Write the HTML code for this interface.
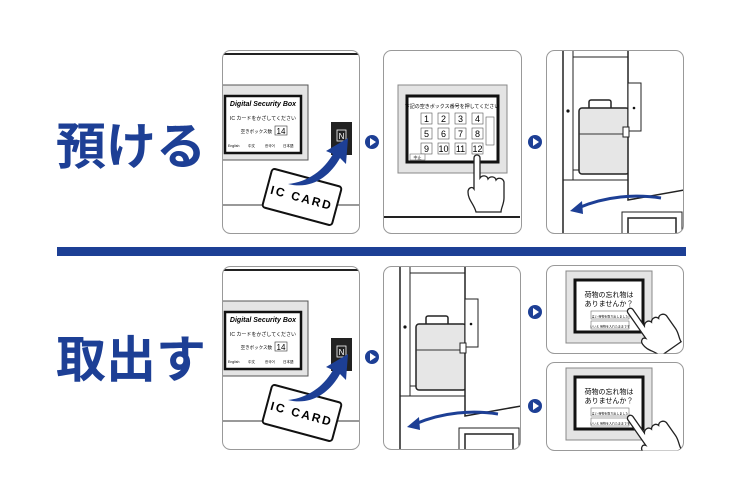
<!DOCTYPE html>
<html><head><meta charset="utf-8"><style>
body{margin:0;background:#fff;width:750px;height:500px;overflow:hidden}
svg{display:block}
.t{font-family:"Liberation Sans","Noto Sans CJK JP",sans-serif}
</style></head><body>
<svg width="750" height="500" viewBox="0 0 750 500" xmlns="http://www.w3.org/2000/svg">
<defs>
<clipPath id="cp"><rect x="0.5" y="0.5" width="137" height="183" rx="8"/></clipPath>
<clipPath id="cps"><rect x="0.5" y="0.5" width="137" height="88" rx="8"/></clipPath>
<g id="arrow"><circle r="7" fill="#1d3f95"/><path d="M-2,-4 L4,0 L-2,4 Z" fill="#fff"/></g>
<g id="hand" fill="#fff" stroke="#222" stroke-width="1.3">
<path d="M0,0 c0,-4 6,-4 6,0 l0,20 c2,-3 7,-3 8,1 c2,-3 7,-3 8,1 c2,-3 7,-2 8,2 l0,16 c0,6 -3,10 -3,14 l-25,0 c-2,-8 -8,-12 -8,-20 c0,-4 4,-6 6,-3 z"/>
</g>
<g id="p1">
<g clip-path="url(#cp)">
<rect x="0" y="0" width="137" height="184" fill="#fff"/>
<line x1="0" y1="4" x2="137" y2="4" stroke="#222" stroke-width="2"/>
<line x1="0" y1="155" x2="137" y2="155" stroke="#333" stroke-width="1"/>
<rect x="-1" y="35" width="87" height="75" fill="#e4e4e4" stroke="#555"/>
<rect x="3" y="46" width="76" height="57" fill="#fff" stroke="#111" stroke-width="2.5"/>
<text x="41" y="56" text-anchor="middle" class="t" font-size="7" font-weight="bold" font-style="italic">Digital Security Box</text>
<text x="41" y="70" text-anchor="middle" class="t" font-size="5">IC カードをかざしてください</text>
<text x="50" y="83" text-anchor="end" class="t" font-size="4.5">空きボックス数</text>
<rect x="53" y="76" width="12" height="9" fill="#fff" stroke="#333" stroke-width=".6"/>
<text x="59" y="84" text-anchor="middle" class="t" font-size="8">14</text>
<g class="t" font-size="3.5"><text x="6" y="97">English</text><text x="26" y="97">中文</text><text x="43" y="97">한국어</text><text x="61" y="97">日本語</text></g>
<rect x="109" y="72" width="21" height="33" fill="#222"/>
<rect x="115" y="80" width="9" height="11" fill="none" stroke="#fff" stroke-width=".8"/>
<text x="119.5" y="89" text-anchor="middle" class="t" font-size="8" fill="#fff">N</text>
<g transform="translate(80,147) rotate(15)"><rect x="-36" y="-20" width="72" height="40" rx="3" fill="#fff" stroke="#111" stroke-width="2"/>
<text x="0" y="5" text-anchor="middle" class="t" font-size="12" font-weight="bold" letter-spacing="2">IC CARD</text></g>
<path d="M66,134 C86,132 102,120 111,104 L104,101 L126,88 L124,114 L118,108 C108,126 90,140 66,134 Z" fill="#1d3f95"/>
</g>
<rect x="0.5" y="0.5" width="137" height="183" rx="8" fill="none" stroke="#999"/>
</g>
<g id="screen">
<rect x="0" y="0" width="86" height="72" fill="#e4e4e4" stroke="#888"/>
<rect x="9" y="9" width="68" height="52" fill="#fff" stroke="#111" stroke-width="3"/>
<text x="43" y="26" text-anchor="middle" class="t" font-size="7">荷物の忘れ物は</text>
<text x="43" y="35" text-anchor="middle" class="t" font-size="7">ありませんか？</text>
<rect x="25" y="40" width="38" height="8" fill="#fff" stroke="#555" stroke-width=".5"/>
<text x="44" y="46.5" text-anchor="middle" class="t" font-size="3">はい 荷物を取り出しました</text>
<rect x="25" y="50" width="38" height="8" fill="#fff" stroke="#555" stroke-width=".5"/>
<text x="44" y="56.5" text-anchor="middle" class="t" font-size="3">いいえ 荷物を入れたままです</text>
</g>
<g id="door">
<g clip-path="url(#cp)">
<rect x="0" y="0" width="138" height="184" fill="#fff"/>
<line x1="17" y1="0" x2="17" y2="184" stroke="#222" stroke-width="1.5"/>
<line x1="27" y1="0" x2="27" y2="130" stroke="#222"/>
<line x1="17" y1="130" x2="82" y2="130" stroke="#222"/>
<line x1="27" y1="7" x2="82" y2="7" stroke="#222"/>
<line x1="27" y1="120" x2="82" y2="120" stroke="#222"/>
<circle cx="22" cy="61" r="1.6" fill="#111"/>
<rect x="43" y="50" width="22" height="10" rx="2" fill="#fff" stroke="#222" stroke-width="1.5"/>
<rect x="33" y="58" width="50" height="66" rx="3" fill="#e6e6e6" stroke="#222" stroke-width="1.5"/>
<path d="M33,84 L83,84" stroke="#333"/>
<path d="M82,0 L82,150 L138,140 L138,0 Z" fill="#fff" stroke="#222" stroke-width="1.5"/>
<rect x="82" y="33" width="13" height="48" fill="#fff" stroke="#222"/>
<circle cx="88" cy="58" r="1.3" fill="#111"/>
<rect x="77" y="77" width="6" height="10" fill="#fff" stroke="#222"/>
<path d="M32,158 C60,146 90,144 115,148" fill="none" stroke="#1d3f95" stroke-width="3"/>
<path d="M24,161 L36,151 L37,164 Z" fill="#1d3f95"/>
<rect x="76" y="162" width="60" height="30" fill="#fff" stroke="#222"/>
<rect x="82" y="168" width="48" height="24" fill="#fff" stroke="#222" stroke-width="1.5"/>
</g>
<rect x="0.5" y="0.5" width="137" height="183" rx="8" fill="none" stroke="#999"/>
</g>
</defs>

<text x="56" y="164" class="t" font-size="50" font-weight="bold" fill="#1d3f95">預ける</text>
<rect x="57" y="247" width="629" height="9" fill="#1d3f95"/>
<text x="56" y="377" class="t" font-size="50" font-weight="bold" fill="#1d3f95">取出す</text>

<use href="#p1" x="222" y="50"/>
<use href="#p1" x="222" y="266"/>

<g transform="translate(383,50)">
<rect x="0.5" y="0.5" width="138" height="183" rx="8" fill="#fff" stroke="#999"/>
<line x1="1" y1="167" x2="137" y2="167" stroke="#222" stroke-width="2"/>
<rect x="15" y="35" width="109" height="88" fill="#e4e4e4" stroke="#888"/>
<rect x="24" y="46" width="91" height="66" fill="#fff" stroke="#111" stroke-width="3"/>
<text x="69" y="58" text-anchor="middle" class="t" font-size="5">下記の空きボックス番号を押してください</text>
<g class="t" font-size="9" text-anchor="middle">
<rect x="38" y="63" width="11" height="11" fill="#fff" stroke="#555" stroke-width=".6"/><text x="43.5" y="72">1</text>
<rect x="55" y="63" width="11" height="11" fill="#fff" stroke="#555" stroke-width=".6"/><text x="60.5" y="72">2</text>
<rect x="72" y="63" width="11" height="11" fill="#fff" stroke="#555" stroke-width=".6"/><text x="77.5" y="72">3</text>
<rect x="89" y="63" width="11" height="11" fill="#fff" stroke="#555" stroke-width=".6"/><text x="94.5" y="72">4</text>
<rect x="38" y="78" width="11" height="11" fill="#fff" stroke="#555" stroke-width=".6"/><text x="43.5" y="87">5</text>
<rect x="55" y="78" width="11" height="11" fill="#fff" stroke="#555" stroke-width=".6"/><text x="60.5" y="87">6</text>
<rect x="72" y="78" width="11" height="11" fill="#fff" stroke="#555" stroke-width=".6"/><text x="77.5" y="87">7</text>
<rect x="89" y="78" width="11" height="11" fill="#fff" stroke="#555" stroke-width=".6"/><text x="94.5" y="87">8</text>
<rect x="38" y="93" width="11" height="11" fill="#fff" stroke="#555" stroke-width=".6"/><text x="43.5" y="102">9</text>
<rect x="55" y="93" width="11" height="11" fill="#fff" stroke="#555" stroke-width=".6"/><text x="60.5" y="102">10</text>
<rect x="72" y="93" width="11" height="11" fill="#fff" stroke="#555" stroke-width=".6"/><text x="77.5" y="102">11</text>
<rect x="89" y="93" width="11" height="11" fill="#fff" stroke="#555" stroke-width=".6"/><text x="94.5" y="102">12</text>
</g>
<rect x="103" y="67" width="8" height="28" fill="#fff" stroke="#555" stroke-width=".6"/>
<rect x="27" y="104" width="15" height="6" fill="#fff" stroke="#555" stroke-width=".5"/>
<text x="34.5" y="109" text-anchor="middle" class="t" font-size="4">中止</text>
<use href="#hand" x="91" y="108"/>
</g>

<use href="#door" x="546" y="50"/>
<use href="#door" x="383" y="266"/>

<g transform="translate(546,265)">
<rect x="0.5" y="0.5" width="137" height="88" rx="8" fill="#fff" stroke="#999"/>
<g clip-path="url(#cps)">
<use href="#screen" x="20" y="6"/>
<use href="#hand" transform="translate(82,48) rotate(-35)"/>
</g>
</g>
<g transform="translate(546,362)">
<rect x="0.5" y="0.5" width="137" height="88" rx="8" fill="#fff" stroke="#999"/>
<g clip-path="url(#cps)">
<use href="#screen" x="20" y="6"/>
<use href="#hand" transform="translate(82,58) rotate(-35)"/>
</g>
</g>

<use href="#arrow" x="372" y="142"/>
<use href="#arrow" x="535" y="142"/>
<use href="#arrow" x="372" y="357"/>
<use href="#arrow" x="535" y="312"/>
<use href="#arrow" x="535" y="406"/>
</svg>
</body></html>
